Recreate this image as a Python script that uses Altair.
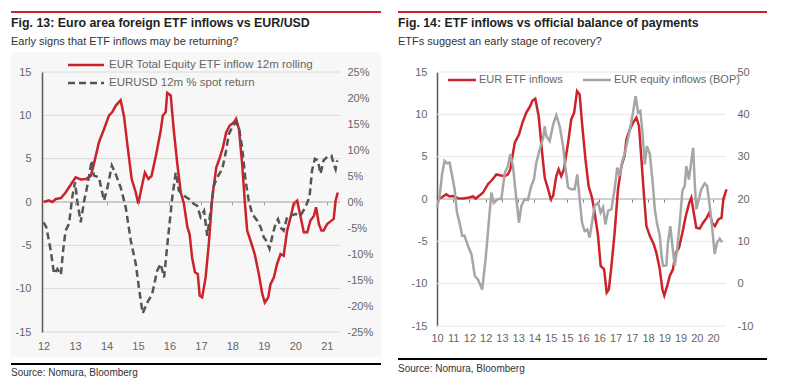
import altair as alt
import pandas as pd

FONT = "Liberation Sans"
RED = "#CC2229"
DARK = "#555555"
GREY = "#A6A6A6"
LABEL = "#666666"

# ---------------- Fig. 13 data ----------------
f13_etf_year = [2012.0, 2012.17, 2012.28, 2012.39, 2012.55, 2012.70, 2012.81, 2013.02, 2013.18, 2013.34,
                2013.50, 2013.60, 2013.76, 2013.92, 2014.08, 2014.18, 2014.29, 2014.45, 2014.56, 2014.66,
                2014.80, 2014.93, 2015.01, 2015.14, 2015.22, 2015.33, 2015.43, 2015.56, 2015.72, 2015.79,
                2015.88, 2015.93, 2016.04, 2016.14, 2016.25, 2016.36, 2016.46, 2016.57, 2016.64, 2016.72,
                2016.81, 2016.90, 2016.96, 2017.04, 2017.15, 2017.25, 2017.36, 2017.49, 2017.59, 2017.70,
                2017.80, 2017.91, 2018.05, 2018.12, 2018.21, 2018.31, 2018.40, 2018.47, 2018.58, 2018.71,
                2018.84, 2018.95, 2019.03, 2019.14, 2019.21, 2019.32, 2019.42, 2019.53, 2019.63, 2019.74,
                2019.85, 2019.95, 2020.06, 2020.17, 2020.27, 2020.38, 2020.48, 2020.59, 2020.66, 2020.75,
                2020.83, 2020.90, 2021.01, 2021.15, 2021.22, 2021.28, 2021.35]
f13_etf_val = [0.0, 0.2, 0.0, 0.35, 0.45, 1.1, 1.7, 2.85, 2.6, 2.65,
               3.0, 4.4, 6.9, 8.4, 10.0, 10.35, 11.1, 11.75, 9.8, 6.7,
               2.65, 1.1, -0.2, 2.1, 3.4, 2.65, 3.0, 5.15, 8.2, 10.0,
               10.35, 12.6, 12.3, 8.2, 4.4, 1.1, -0.2, -2.9, -3.7, -6.4,
               -8.1, -8.3, -10.8, -11.0, -8.7, -4.85, 0.5, 4.0, 5.0, 6.3,
               8.0, 8.8, 9.2, 9.6, 8.4, 4.4, -0.2, -3.3, -4.5, -6.0,
               -8.3, -10.6, -11.6, -11.0, -9.5, -8.7, -7.15, -6.0, -6.2, -3.3,
               -1.75, -0.2, 0.15, -1.75, -3.5, -3.5, -2.15, -1.6, -0.6, -2.55,
               -3.3, -3.3, -2.55, -2.15, -1.95, 0.15, 1.1]

f13_fx_year = [2012.0, 2012.09, 2012.23, 2012.33, 2012.44, 2012.55, 2012.62, 2012.70, 2012.81, 2012.91,
               2013.0, 2013.07, 2013.18, 2013.29, 2013.39, 2013.53, 2013.60, 2013.76, 2013.92, 2014.03,
               2014.17, 2014.29, 2014.45, 2014.61, 2014.77, 2014.93, 2015.03, 2015.15, 2015.30, 2015.45,
               2015.61, 2015.72, 2015.83, 2015.93, 2016.09, 2016.20, 2016.30, 2016.46, 2016.62, 2016.78,
               2016.88, 2016.99, 2017.10, 2017.20, 2017.31, 2017.41, 2017.52, 2017.68, 2017.80, 2017.89,
               2018.02, 2018.12, 2018.21, 2018.31, 2018.42, 2018.52, 2018.63, 2018.79, 2018.90, 2019.0,
               2019.07, 2019.18, 2019.26, 2019.37, 2019.45, 2019.53, 2019.63, 2019.74, 2019.85, 2020.01,
               2020.17, 2020.32, 2020.45, 2020.53, 2020.62, 2020.72, 2020.80, 2020.90, 2021.01, 2021.15,
               2021.22, 2021.28, 2021.33]
f13_fx_pct = [-3.9, -4.9, -9.4, -13.8, -12.9, -14.0, -9.4, -5.5, -4.2, 0.9,
              3.8, 0.25, -3.9, 0.25, 3.1, 8.0, 5.1, 4.75, 0.25, 2.8,
              7.0, 5.4, 2.8, -1.0, -7.4, -11.9, -16.5, -21.4, -19.3, -17.7,
              -13.2, -11.9, -14.5, -8.4, 0.9, 5.7, 2.2, 1.2, 0.6, -0.4,
              -0.7, -2.9, -1.7, -6.5, -1.7, 3.1, 4.75, 6.35, 9.9, 13.1,
              14.7, 15.3, 14.2, 10.5, 4.1, 0.25, -2.3, -3.6, -4.9, -6.8,
              -7.4, -9.0, -6.8, -4.2, -3.3, -4.9, -5.5, -2.9, -2.6, -2.3,
              -2.6, -1.0, 0.9, 6.0, 8.3, 8.0, 5.4, 8.0, 8.7, 8.9,
              7.3, 6.3, 8.0]

f13_x_ticks = [2012, 2013, 2014, 2015, 2016, 2017, 2018, 2019, 2020, 2021]
f13_x_labels = ["12", "13", "14", "15", "16", "17", "18", "19", "20", "21"]
f13_y_ticks = [-15, -10, -5, 0, 5, 10, 15]
f13_y2_ticks = [-25, -20, -15, -10, -5, 0, 5, 10, 15, 20, 25]
f13_grid = [-15, -10, -5, 5, 10, 15]
f13_legend = ["EUR Total Equity ETF inflow 12m rolling", "EURUSD 12m % spot return"]

# ---------------- Fig. 14 data ----------------
f14_etf_year = [2010.00, 2010.16, 2010.35, 2010.48, 2010.61, 2010.80, 2010.99, 2011.18, 2011.37, 2011.47,
                2011.63, 2011.75, 2011.94, 2012.11, 2012.26, 2012.39, 2012.58, 2012.70, 2012.79, 2012.96,
                2013.12, 2013.25, 2013.40, 2013.55, 2013.63, 2013.74, 2013.87, 2014.00, 2014.10, 2014.23,
                2014.33, 2014.42, 2014.54, 2014.63, 2014.73, 2014.83, 2014.99, 2015.11, 2015.22, 2015.33,
                2015.43, 2015.52, 2015.65, 2015.77, 2015.90, 2016.00, 2016.13, 2016.23, 2016.36, 2016.46,
                2016.54, 2016.64, 2016.76, 2016.89, 2017.02, 2017.14, 2017.21, 2017.34, 2017.46, 2017.59,
                2017.69, 2017.78, 2017.87, 2017.97, 2018.10, 2018.25, 2018.35, 2018.48, 2018.58, 2018.65,
                2018.76, 2018.86, 2018.98, 2019.09, 2019.21, 2019.34, 2019.47, 2019.60, 2019.68, 2019.77,
                2019.87, 2020.00, 2020.13, 2020.27, 2020.37, 2020.47, 2020.58, 2020.71, 2020.83, 2020.90,
                2021.02]
f14_etf_val = [0.0, 0.15, 0.55, 0.3, 0.35, 0.1, 0.05, 0.15, 0.3, 0.05,
               0.45, 0.75, 1.75, 2.3, 2.9, 2.8, 2.7, 2.9, 3.5, 6.65,
               7.6, 9.0, 10.2, 11.0, 11.6, 11.85, 9.8, 5.5, 2.5, 1.15,
               0.0, 0.35, 2.7, 3.5, 2.7, 3.5, 6.65, 9.4, 10.2, 12.75,
               12.35, 9.0, 4.7, 1.55, 0.15, -1.6, -4.35, -7.9, -8.3, -11.05,
               -10.7, -7.9, -4.0, 1.15, 3.9, 5.1, 7.05, 8.2, 9.0, 9.6,
               8.6, 4.7, 0.75, -3.2, -4.35, -5.35, -6.35, -8.3, -10.7, -11.4,
               -10.3, -9.1, -8.3, -6.35, -5.75, -4.0, -2.0, -0.45, 0.15, -1.6,
               -3.4, -3.5, -2.8, -2.2, -1.6, -2.8, -3.2, -2.4, -2.2, 0.0,
               1.15]

f14_bop_year = [2010.00, 2010.10, 2010.20, 2010.29, 2010.38, 2010.48, 2010.58, 2010.67, 2010.76, 2010.86,
                2010.96, 2011.05, 2011.18, 2011.31, 2011.44, 2011.56, 2011.72, 2011.85, 2011.98, 2012.07,
                2012.16, 2012.32, 2012.45, 2012.58, 2012.70, 2012.79, 2012.89, 2013.02, 2013.12, 2013.21,
                2013.34, 2013.46, 2013.59, 2013.69, 2013.78, 2013.91, 2014.04, 2014.10, 2014.16, 2014.29,
                2014.42, 2014.54, 2014.67, 2014.80, 2014.88, 2014.99, 2015.11, 2015.24, 2015.34, 2015.43,
                2015.52, 2015.62, 2015.72, 2015.81, 2015.90, 2016.00, 2016.13, 2016.23, 2016.32, 2016.41,
                2016.51, 2016.64, 2016.76, 2016.86, 2016.95, 2017.04, 2017.15, 2017.21, 2017.34, 2017.46,
                2017.56, 2017.65, 2017.74, 2017.82, 2017.91, 2017.99, 2018.10, 2018.20, 2018.29, 2018.37,
                2018.48, 2018.54, 2018.60, 2018.73, 2018.79, 2018.88, 2018.96, 2019.05, 2019.14, 2019.24,
                2019.34, 2019.43, 2019.49, 2019.59, 2019.68, 2019.75, 2019.81, 2019.87, 2019.97, 2020.06,
                2020.19, 2020.28, 2020.38, 2020.48, 2020.57, 2020.66, 2020.76, 2020.85]
f14_bop_val = [18, 20.7, 26.2, 29, 28.4, 28.6, 25.4, 22.3, 16.8, 14.4,
               11.3, 11.3, 8.9, 7.0, 1.8, 1.0, -1.4, 5.8, 15.2, 21.5,
               19.1, 20, 20, 26.2, 27.8, 30.6, 27.8, 20, 14.4, 18.4,
               20, 19.8, 23.1, 24.6, 28.6, 31.7, 34.5, 37.2, 34.9, 33.7,
               37.6, 39.8, 37.2, 32.5, 27.8, 22.7, 22.3, 22.3, 25.8, 20,
               14.4, 12.4, 12.8, 10.9, 14.4, 18.4, 19.1, 16.8, 18, 14,
               17.2, 17.6, 22.3, 27.4, 25.4, 28.6, 30.9, 32.5, 36.4, 40.4,
               44.3, 40.4, 40.8, 35.7, 28.2, 32.5, 30.6, 24.6, 17.6, 14.4,
               11.3, 7.0, 4.2, 4.3, 9.7, 13.6, 8.9, 4.2, 8.1, 14.4,
               21.9, 23.1, 27.8, 24.6, 29, 32.1, 23.9, 17.6, 20, 22.3,
               23.7, 23.1, 18.4, 12.8, 7.0, 9.7, 10.6, 9.8]

f14_x_labels = ["10", "11", "12", "12", "13", "13", "14", "15", "15", "16", "16", "17", "17", "18",
                "19", "19", "20", "20"]
F14_X_START = 2010.0
F14_X_STEP = 0.618
f14_x_ticks = [round(F14_X_START + i * F14_X_STEP, 4) for i in range(len(f14_x_labels))]
f14_y_ticks = [-15, -10, -5, 0, 5, 10, 15]
f14_y2_ticks = [-10, 0, 10, 20, 30, 40, 50]
f14_grid = [-15, -10, -5, 5, 10, 15]
f14_legend = ["EUR ETF inflows", "EUR equity inflows (BOP)"]

TEXTS = {
    "t13": "Fig. 13: Euro area foreign ETF inflows vs EUR/USD",
    "s13": "Early signs that ETF inflows may be returning?",
    "t14": "Fig. 14: ETF inflows vs official balance of payments",
    "s14": "ETFs suggest an early stage of recovery?",
    "src": "Source: Nomura, Bloomberg",
}

# ---------------- helpers ----------------
ONE = alt.Data(values=[{"k": 1}])


def txt(s, x, y, size, weight="normal", color="#333333", baseline="alphabetic"):
    return alt.Chart(ONE).mark_text(text=s, align="left", baseline=baseline, font=FONT,
                                    fontSize=size, fontWeight=weight, color=color).encode(
        x=alt.value(x), y=alt.value(y))


def hrule(x1, x2, y, color, width, dash=None):
    kw = dict(color=color, strokeWidth=width)
    if dash:
        kw["strokeDash"] = dash
    return alt.Chart(ONE).mark_rule(**kw).encode(x=alt.value(x1), x2=alt.value(x2), y=alt.value(y))


def lookup_expr(ticks, labels):
    # map an axis tick value to its label from the label list
    expr = "''"
    for t, l in reversed(list(zip(ticks, labels))):
        expr = f"(abs(datum.value - {t}) < 0.01 ? '{l}' : {expr})"
    return expr


# ---------------- Fig. 13 panel ----------------
W1, H1 = 298, 260
xs1 = alt.Scale(domain=[2011.95, 2021.42], nice=False, zero=False)
ys1 = alt.Scale(domain=[-15, 15], nice=False, zero=False)
ys1b = alt.Scale(domain=[-25, 25], nice=False, zero=False)

df13a = pd.DataFrame({"year": f13_etf_year, "v": f13_etf_val})
df13b = pd.DataFrame({"year": f13_fx_year, "v": f13_fx_pct})

bg13 = alt.Chart(ONE).mark_rect(color="#F7F7F7").encode(
    x=alt.value(-31), x2=alt.value(339), y=alt.value(-20), y2=alt.value(285))

grid13 = alt.Chart(pd.DataFrame({"g": f13_grid})).mark_rule(color="#DADADA", strokeWidth=1).encode(
    y=alt.Y("g:Q", scale=ys1, axis=None))
zero13 = alt.Chart(pd.DataFrame({"g": [0]})).mark_rule(color="#A0A0A0", strokeWidth=1).encode(
    y=alt.Y("g:Q", scale=ys1, axis=None))

red13 = alt.Chart(df13a).mark_line(color=RED, strokeWidth=2.5).encode(
    x=alt.X("year:Q", scale=xs1, axis=alt.Axis(
        values=f13_x_ticks, labelExpr=lookup_expr(f13_x_ticks, f13_x_labels), domain=False, ticks=False,
        tickSize=0, grid=False, labelPadding=8, labelFont=FONT, labelFontSize=11, labelColor=LABEL,
        labelFlush=False, labelOverlap=False, title=None, zindex=1)),
    y=alt.Y("v:Q", scale=ys1, axis=alt.Axis(
        orient="left", values=f13_y_ticks, labelExpr="toString(datum.value)", grid=False, ticks=False,
        tickSize=0, domain=True, domainColor="#595959", domainWidth=1.5, labelPadding=11, labelFont=FONT,
        labelFontSize=11, labelColor=LABEL, title=None, zindex=1)),
)

fx13 = alt.Chart(df13b).mark_line(color=DARK, strokeWidth=2.5, strokeDash=[7, 4]).encode(
    x=alt.X("year:Q", scale=xs1, axis=alt.Axis(
        orient="bottom", offset=-130, values=f13_x_ticks[1:], labels=False, ticks=True, tickSize=3,
        tickColor="#A0A0A0", domain=False, grid=False, title=None, zindex=1)),
    y=alt.Y("v:Q", scale=ys1b, axis=alt.Axis(
        orient="right", values=f13_y2_ticks, labelExpr="toString(datum.value) + '%'", grid=False,
        ticks=False, tickSize=0, domain=False, labelPadding=7, labelFont=FONT, labelFontSize=11,
        labelColor=LABEL, title=None, zindex=1)),
)

left = alt.layer(
    bg13, grid13, zero13, red13, fx13,
    hrule(-31, 339, -60, RED, 2),
    txt(TEXTS["t13"], -31, -45, 12.4, "bold", "#222222"),
    txt(TEXTS["s13"], -31, -27, 11, "normal", "#333333"),
    hrule(26, 62, -7, RED, 2.5),
    txt(f13_legend[0], 67, -7, 11.5, "normal", LABEL, "middle"),
    hrule(26, 62, 11, DARK, 2.5, [7, 4]),
    txt(f13_legend[1], 67, 11, 11.5, "normal", LABEL, "middle"),
    hrule(-31, 339, 292, "#000000", 2),
    txt(TEXTS["src"], -31, 304, 10, "normal", "#333333"),
).resolve_scale(y="independent").resolve_axis(x="independent", y="independent").properties(
    width=W1, height=H1)

# ---------------- Fig. 14 panel ----------------
W2, H2 = 289, 254
xs2 = alt.Scale(domain=[2010.0, 2021.0], nice=False, zero=False)
ys2 = alt.Scale(domain=[-15, 15], nice=False, zero=False)
ys2b = alt.Scale(domain=[-10, 50], nice=False, zero=False)

df14a = pd.DataFrame({"year": f14_etf_year, "v": f14_etf_val})
df14b = pd.DataFrame({"year": f14_bop_year, "v": f14_bop_val})

grid14 = alt.Chart(pd.DataFrame({"g": f14_grid})).mark_rule(color="#E6E6E6", strokeWidth=1).encode(
    y=alt.Y("g:Q", scale=ys2, axis=None))
zero14 = alt.Chart(pd.DataFrame({"g": [0]})).mark_rule(color="#A0A0A0", strokeWidth=1).encode(
    y=alt.Y("g:Q", scale=ys2, axis=None))

red14 = alt.Chart(df14a).mark_line(color=RED, strokeWidth=2.5).encode(
    x=alt.X("year:Q", scale=xs2, axis=alt.Axis(
        values=f14_x_ticks, labelExpr=lookup_expr(f14_x_ticks, f14_x_labels), domain=False, ticks=False,
        tickSize=0, grid=False, labelPadding=6, labelFont=FONT, labelFontSize=11, labelColor=LABEL,
        labelFlush=False, labelOverlap=False, title=None)),
    y=alt.Y("v:Q", scale=ys2, axis=alt.Axis(
        orient="left", values=f14_y_ticks, labelExpr="toString(datum.value)", grid=False, ticks=False,
        tickSize=0, domain=True, domainColor="#595959", domainWidth=1.5, labelPadding=10, labelFont=FONT,
        labelFontSize=11, labelColor=LABEL, title=None)),
)

bop14 = alt.Chart(df14b).mark_line(color=GREY, strokeWidth=2.5).encode(
    x=alt.X("year:Q", scale=xs2, axis=alt.Axis(
        orient="bottom", offset=-127, values=f14_x_ticks[1:], labels=False, ticks=True, tickSize=3,
        tickColor="#808080", domain=False, grid=False, title=None)),
    y=alt.Y("v:Q", scale=ys2b, axis=alt.Axis(
        orient="right", values=f14_y2_ticks, labelExpr="toString(datum.value)", grid=False,
        ticks=False, tickSize=0, domain=False, labelPadding=11, labelFont=FONT, labelFontSize=11,
        labelColor=LABEL, title=None)),
)

right = alt.layer(
    grid14, zero14, red14, bop14,
    hrule(-39, 330, -60, RED, 2),
    txt(TEXTS["t14"], -39, -45, 12.3, "bold", "#222222"),
    txt(TEXTS["s14"], -39, -27, 11, "normal", "#333333"),
    hrule(11, 39, 8, RED, 2.5),
    txt(f14_legend[0], 42, 8, 11, "normal", LABEL, "middle"),
    hrule(146, 174, 8, GREY, 2.5),
    txt(f14_legend[1], 177, 8, 11, "normal", LABEL, "middle"),
    hrule(-39, 330, 287, "#000000", 2),
    txt(TEXTS["src"], -39, 300, 10, "normal", "#333333"),
).resolve_scale(y="independent").resolve_axis(x="independent", y="independent").properties(
    width=W2, height=H2)

chart = alt.hconcat(left, right, spacing=15).properties(
    padding={"left": 2, "top": 3, "right": 5, "bottom": 5},
    background="white",
).configure_view(stroke=None)

chart.save("out.html", embed_options={"renderer": "svg", "actions": False})
